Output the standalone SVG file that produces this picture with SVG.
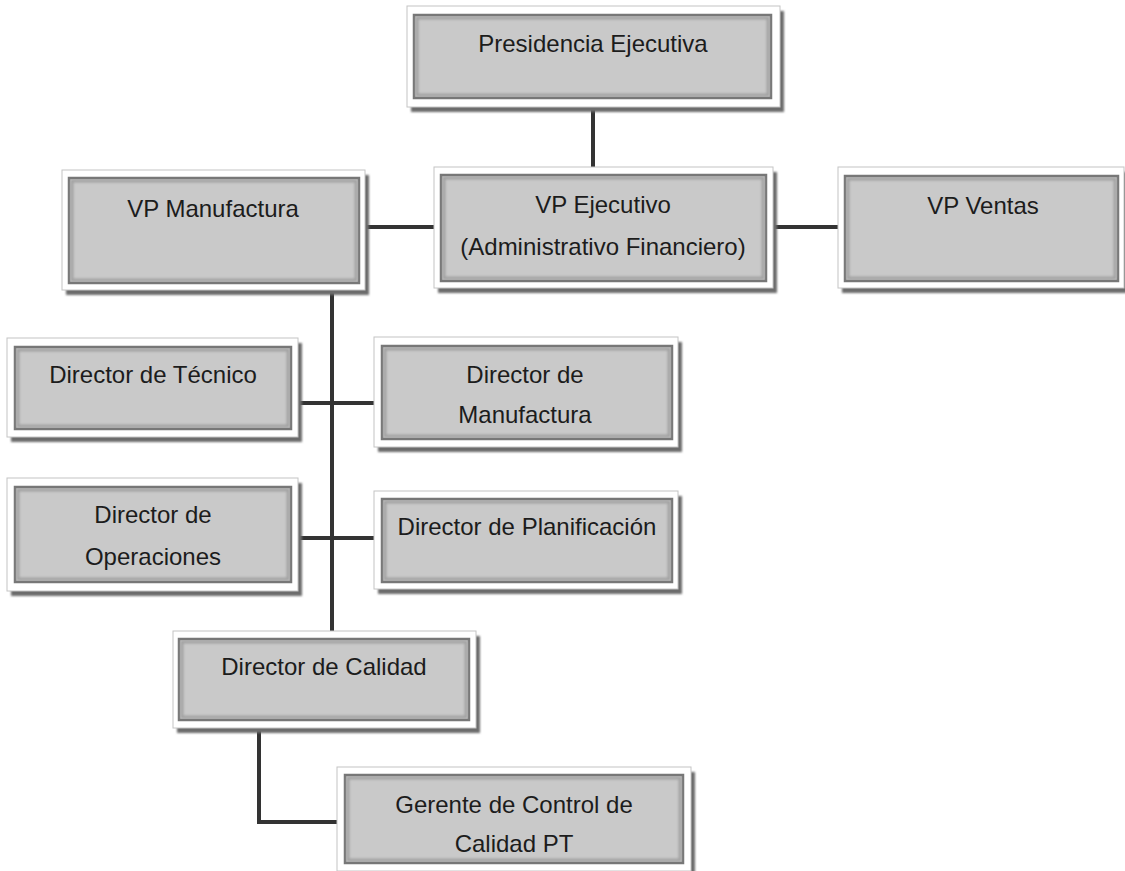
<svg xmlns="http://www.w3.org/2000/svg" width="1125" height="871" viewBox="0 0 1125 871">
  <defs>
    <filter id="soft" x="-5%" y="-5%" width="110%" height="120%">
      <feGaussianBlur stdDeviation="1.3"/>
    </filter>
    <filter id="bevel" x="-2%" y="-2%" width="104%" height="104%">
      <feGaussianBlur stdDeviation="1.2"/>
    </filter>
    <style>
      .shadow { fill: #6c6c6c; filter: url(#soft); }
      .frame  { fill: #ffffff; stroke: #c4c4c4; stroke-width: 1; }
      .face   { fill: #c9c9c9; stroke: #777777; stroke-width: 2.5; }
      .edge   { fill: none; stroke: #a2a2a2; stroke-width: 3; filter: url(#bevel); }
      .label  { font-family: "Liberation Sans", Arial, sans-serif; font-size: 24px; fill: #1c1c1c; text-anchor: middle; }
      .link   { fill: none; stroke: #333333; stroke-width: 4; stroke-linejoin: miter; }
    </style>
  </defs>

  <rect width="1125" height="871" fill="#ffffff"/>

  <!-- connectors -->
  <g id="connectors">
    <path class="link" d="M593,107 V167"/>
    <path class="link" d="M365,227 H434"/>
    <path class="link" d="M773,227 H838"/>
    <path class="link" d="M332,290 V631"/>
    <path class="link" d="M298,403 H374"/>
    <path class="link" d="M298,538 H374"/>
    <path class="link" d="M259,728 V822 H337"/>
  </g>

  <!-- nodes -->
  <g id="presidencia">
    <rect class="shadow" x="411" y="11" width="373" height="101"/>
    <rect class="frame" x="407" y="6" width="373" height="101"/>
    <rect class="face" x="414" y="15" width="357" height="83"/>
    <rect class="edge" x="417" y="18" width="351" height="77"/>
    <text class="label" x="593" y="52">Presidencia Ejecutiva</text>
  </g>

  <g id="vp-manufactura">
    <rect class="shadow" x="66" y="175" width="303" height="120"/>
    <rect class="frame" x="62" y="170" width="303" height="120"/>
    <rect class="face" x="69" y="178" width="290" height="105"/>
    <rect class="edge" x="72" y="181" width="284" height="99"/>
    <text class="label" x="213" y="217">VP Manufactura</text>
  </g>

  <g id="vp-ejecutivo">
    <rect class="shadow" x="438" y="172" width="339" height="121"/>
    <rect class="frame" x="434" y="167" width="339" height="121"/>
    <rect class="face" x="441" y="175" width="325" height="106"/>
    <rect class="edge" x="444" y="178" width="319" height="100"/>
    <text class="label" x="603" y="213">VP Ejecutivo</text>
    <text class="label" x="603" y="255">(Administrativo Financiero)</text>
  </g>

  <g id="vp-ventas">
    <rect class="shadow" x="842" y="172" width="286" height="121"/>
    <rect class="frame" x="838" y="167" width="286" height="121"/>
    <rect class="face" x="845" y="176" width="273" height="105"/>
    <rect class="edge" x="848" y="179" width="267" height="99"/>
    <text class="label" x="983" y="214">VP Ventas</text>
  </g>

  <g id="director-tecnico">
    <rect class="shadow" x="11" y="343" width="291" height="99"/>
    <rect class="frame" x="7" y="338" width="291" height="99"/>
    <rect class="face" x="15" y="347" width="276" height="82"/>
    <rect class="edge" x="18" y="350" width="270" height="76"/>
    <text class="label" x="153" y="383">Director de Técnico</text>
  </g>

  <g id="director-manufactura">
    <rect class="shadow" x="378" y="342" width="304" height="110"/>
    <rect class="frame" x="374" y="337" width="304" height="110"/>
    <rect class="face" x="382" y="346" width="290" height="93"/>
    <rect class="edge" x="385" y="349" width="284" height="87"/>
    <text class="label" x="525" y="383">Director de</text>
    <text class="label" x="525" y="423">Manufactura</text>
  </g>

  <g id="director-operaciones">
    <rect class="shadow" x="11" y="483" width="291" height="113"/>
    <rect class="frame" x="7" y="478" width="291" height="113"/>
    <rect class="face" x="15" y="487" width="276" height="95"/>
    <rect class="edge" x="18" y="490" width="270" height="89"/>
    <text class="label" x="153" y="523">Director de</text>
    <text class="label" x="153" y="565">Operaciones</text>
  </g>

  <g id="director-planificacion">
    <rect class="shadow" x="378" y="496" width="304" height="98"/>
    <rect class="frame" x="374" y="491" width="304" height="98"/>
    <rect class="face" x="382" y="499" width="290" height="83"/>
    <rect class="edge" x="385" y="502" width="284" height="77"/>
    <text class="label" x="527" y="535">Director de Planificación</text>
  </g>

  <g id="director-calidad">
    <rect class="shadow" x="177" y="636" width="303" height="97"/>
    <rect class="frame" x="173" y="631" width="303" height="97"/>
    <rect class="face" x="179" y="639" width="290" height="81"/>
    <rect class="edge" x="182" y="642" width="284" height="75"/>
    <text class="label" x="324" y="675">Director de Calidad</text>
  </g>

  <g id="gerente-control-calidad">
    <rect class="shadow" x="341" y="772" width="354" height="104"/>
    <rect class="frame" x="337" y="767" width="354" height="104"/>
    <rect class="face" x="345" y="775" width="338" height="88"/>
    <rect class="edge" x="348" y="778" width="332" height="82"/>
    <text class="label" x="514" y="813">Gerente de Control de</text>
    <text class="label" x="514" y="852">Calidad PT</text>
  </g>
</svg>
